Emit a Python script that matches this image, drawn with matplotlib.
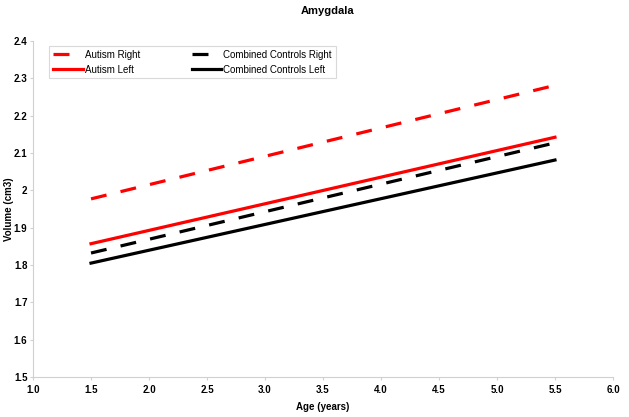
import matplotlib
matplotlib.use("Agg")
import matplotlib.pyplot as plt

plt.rcParams['font.family'] = ['Liberation Sans', 'DejaVu Sans']

ages = [1.5, 5.5]
autism_right = [1.977, 2.281]
autism_left = [1.857, 2.142]
controls_right = [1.832, 2.127]
controls_left = [1.805, 2.081]

x_ticks = [1.0, 1.5, 2.0, 2.5, 3.0, 3.5, 4.0, 4.5, 5.0, 5.5, 6.0]
y_ticks = [1.5, 1.6, 1.7, 1.8, 1.9, 2.0, 2.1, 2.2, 2.3, 2.4]
y_labels = ["1.5", "1.6", "1.7", "1.8", "1.9", "2", "2.1", "2.2", "2.3", "2.4"]

fig = plt.figure(figsize=(6.29, 4.17), dpi=100)
ax = fig.add_axes([0.0525, 0.0959, 0.922, 0.806])

ax.plot(ages, autism_right, color="#ff0000", lw=2.3, dashes=(5, 4.5), label="Autism Right")
ax.plot(ages, autism_left, color="#ff0000", lw=2.3, label="Autism Left")
ax.plot(ages, controls_right, color="black", lw=2.3, dashes=(5, 4.5), label="Combined Controls Right")
ax.plot(ages, controls_left, color="black", lw=2.3, label="Combined Controls Left")

ax.set_xlim(1.0, 6.0)
ax.set_ylim(1.5, 2.4)
ax.set_xticks(x_ticks)
ax.set_xticklabels([f"{t:.1f}" for t in x_ticks])
ax.set_yticks(y_ticks)
ax.set_yticklabels(y_labels)
ax.tick_params(labelsize=7, length=2, color="#d0d0d0", width=0.8, pad=2)
ax.tick_params(axis="x", pad=4)
for lbl in ax.get_xticklabels() + ax.get_yticklabels():
    lbl.set_fontweight("bold")

for s in ["top", "right"]:
    ax.spines[s].set_visible(False)
for s in ["left", "bottom"]:
    ax.spines[s].set_color("#d0d0d0")
    ax.spines[s].set_linewidth(0.8)

ax.set_xlabel("Age (years)", fontsize=7, fontweight="bold")
ax.set_ylabel("Volume (cm3)", fontsize=7, fontweight="bold")
ax.yaxis.set_label_coords(-0.0335, 0.5)
ax.xaxis.set_label_coords(0.5, -0.075)
fig.suptitle("Amygdala", x=0.52, y=0.985, fontsize=8, fontweight="bold")

leg = ax.legend(loc="upper left", bbox_to_anchor=(0.02, 1.0), ncol=2, fontsize=7,
                frameon=True, fancybox=False, handlelength=3.0, columnspacing=5.3,
                borderpad=0.4, labelspacing=0.5, handletextpad=0.25)
leg.get_frame().set_edgecolor("#d0d0d0")
leg.get_frame().set_linewidth(0.8)

fig.savefig("out.png", dpi=100)
